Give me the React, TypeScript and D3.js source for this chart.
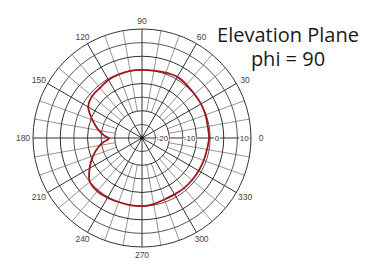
import * as d3 from 'd3';
import { useEffect, useRef } from 'react';

// polar pattern, elevation plane (phi = 90)
const angles = [0, 10, 20, 30, 40, 50, 60, 70, 80, 90, 100, 110, 120, 130, 140, 150, 155, 160, 165, 170, 176, 181, 186, 192, 200, 210, 220, 230, 240, 250, 260, 270, 280, 290, 300, 310, 320, 330, 340, 350];
const gains = [-5.4, -5.5, -5.2, -5.0, -4.9, -4.5, -4.1, -4.5, -4.9, -5.0, -5.0, -5.2, -5.4, -6.0, -6.1, -7.2, -8.9, -10.6, -12.3, -13.9, -16.0, -17.9, -15.8, -13.6, -10.9, -7.8, -5.0, -4.5, -4.7, -5.0, -5.0, -5.0, -5.4, -6.0, -6.1, -6.0, -6.0, -6.0, -5.9, -5.8];

const ringValues = [-25, -20, -15, -10, -5, 0, 5, 10];
const ringLabels = [-20, -10, 0, 10];
const angleLabels = [0, 30, 60, 90, 120, 150, 180, 210, 240, 270, 300, 330];
const title = ['Elevation Plane', 'phi = 90'];

const W = 367;
const H = 261;
const cx = 142;
const cy = 138;
const R = 109;

export default function App() {
  const svgRef = useRef<SVGSVGElement | null>(null);

  useEffect(() => {
    const svg = d3.select(svgRef.current);
    svg.selectAll('*').remove();

    const r = d3.scaleLinear().domain([-30, 10]).range([0, R]);
    const rad = (deg: number) => (deg * Math.PI) / 180;

    const g = svg.append('g').attr('transform', `translate(${cx},${cy})`);

    // minor spokes every 10 deg
    d3.range(0, 360, 10)
      .filter((a) => a % 30 !== 0)
      .forEach((a) => {
        g.append('line')
          .attr('x1', r(-20) * Math.cos(rad(a)))
          .attr('y1', -r(-20) * Math.sin(rad(a)))
          .attr('x2', R * Math.cos(rad(a)))
          .attr('y2', -R * Math.sin(rad(a)))
          .style('stroke', '#8a8a8a')
          .style('stroke-width', 0.9);
      });

    // rings
    g.selectAll('circle.ring')
      .data(ringValues)
      .enter()
      .append('circle')
      .attr('class', 'ring')
      .attr('r', (d) => r(d))
      .style('fill', 'none')
      .style('stroke', (d) => (d % 10 === 0 ? '#333' : '#555'))
      .style('stroke-width', 1);

    // major spokes every 30 deg
    angleLabels.forEach((a) => {
      g.append('line')
        .attr('x1', 0)
        .attr('y1', 0)
        .attr('x2', R * Math.cos(rad(a)))
        .attr('y2', -R * Math.sin(rad(a)))
        .style('stroke', '#333')
        .style('stroke-width', 1);
    });

    g.append('circle').attr('r', 1.8).style('fill', '#111');

    // radial labels on the 0 deg axis
    g.selectAll('text.rl')
      .data(ringLabels)
      .enter()
      .append('text')
      .attr('class', 'rl')
      .attr('x', (d) => r(d - 2.5))
      .attr('y', 3)
      .attr('text-anchor', 'middle')
      .style('font-family', 'Liberation Sans, Arial, sans-serif')
      .style('font-size', '8px')
      .style('fill', '#333')
      .style('paint-order', 'stroke')
      .style('stroke', '#fff')
      .style('stroke-width', 2.5)
      .text((d) => `${d}`);

    // angle labels
    g.selectAll('text.al')
      .data(angleLabels)
      .enter()
      .append('text')
      .attr('class', 'al')
      .attr('x', (d) => 119 * Math.cos(rad(d)))
      .attr('y', (d) => -117 * Math.sin(rad(d)) + 3)
      .attr('text-anchor', 'middle')
      .style('font-family', 'Liberation Sans, Arial, sans-serif')
      .style('font-size', '8.5px')
      .style('fill', '#444')
      .text((d) => `${d}`);

    // pattern
    const pts = angles.map((a, i) => [a, gains[i]] as [number, number]);
    const line = d3
      .lineRadial<[number, number]>()
      .angle((d) => Math.PI / 2 - rad(d[0]))
      .radius((d) => r(d[1]))
      .curve(d3.curveCatmullRomClosed.alpha(0.5));

    g.append('path')
      .attr('d', line(pts))
      .style('fill', 'none')
      .style('stroke', '#a3151b')
      .style('stroke-width', 1.8);

    // title
    svg
      .selectAll('text.title')
      .data(title)
      .enter()
      .append('text')
      .attr('class', 'title')
      .attr('x', 288)
      .attr('y', (_, i) => 42 + i * 24)
      .attr('text-anchor', 'middle')
      .style('font-family', 'Open Sans, Noto Sans, sans-serif')
      .style('font-size', '20px')
      .style('fill', '#1a1a1a')
      .text((d) => d);
  }, []);

  return (
    <svg
      ref={svgRef}
      width={W}
      height={H}
      style={{ position: 'absolute', left: 0, top: 0, background: '#fff' }}
    />
  );
}
